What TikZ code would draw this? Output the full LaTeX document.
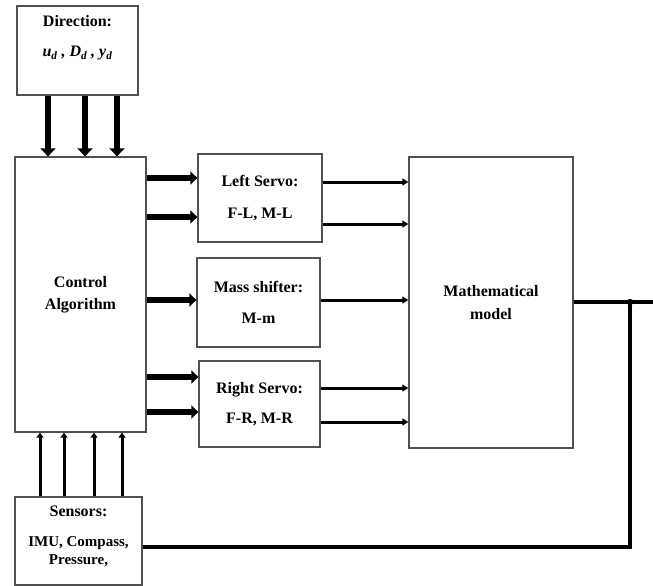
\documentclass[tikz,border=0pt]{standalone}
\usepackage{fontspec}
\setmainfont{Liberation Serif}
\usetikzlibrary{arrows.meta}
\definecolor{boxgray}{RGB}{80,80,80}
\tikzset{
  box/.style={draw=boxgray, line width=1.3pt, fill=white, inner sep=0pt, align=center},
  hd/.style={font=\fontsize{16}{22}\selectfont\bfseries, align=center, inner sep=0pt},
  sn/.style={font=\fontsize{15}{18}\selectfont\bfseries, align=center, inner sep=0pt},
  fatarrow/.style={line width=6pt, -{Triangle[length=8pt,width=15pt]}},
  medarrow/.style={line width=5.5pt, -{Triangle[length=7pt,width=13pt]}},
  thinarrow/.style={line width=3pt, -{Triangle[length=6pt,width=7pt]}},
  upline/.style={line width=3pt, -{Triangle[length=5pt,width=7pt]}},
  outline/.style={line width=4pt}
}
\begin{document}
\begin{tikzpicture}[x=1pt,y=-1pt]
\useasboundingbox (0,0) rectangle (653,586);
% boxes
\node[box, minimum width=121pt, minimum height=89pt] (dir) at (77.5,50.5) {};
\node[hd] (dirT) at (77.5,38) {Direction:\\[8pt]\itshape u\textsubscript{d} , D\textsubscript{d} , y\textsubscript{d}};
\node[box, hd, draw=boxgray, minimum width=131pt, minimum height=275pt] (ctrl) at (80.5,294.5) {Control\\Algorithm};
\node[box, minimum width=127pt, minimum height=88pt] (sens) at (78.5,541) {};
\node[sn] (sensT) at (78.5,536) {{\fontsize{16}{18}\selectfont Sensors:}\\[12pt]IMU, Compass,\\Pressure,};
\node[box, hd, draw=boxgray, minimum width=124pt, minimum height=88pt] (ls) at (260,198) {Left Servo:\\[10pt]F-L, M-L};
\node[box, hd, draw=boxgray, minimum width=123pt, minimum height=89pt] (ms) at (258.5,302.5) {Mass shifter:\\[9pt]M-m};
\node[box, hd, draw=boxgray, minimum width=121pt, minimum height=86pt] (rs) at (259.5,404) {Right Servo:\\[8pt]F-R, M-R};
\node[box, hd, draw=boxgray, minimum width=164pt, minimum height=291pt, font=\fontsize{16}{23}\selectfont\bfseries] (math) at (491,302.5) {Mathematical\\model};
% direction arrows
\foreach \x in {48,85,117}
  \draw[fatarrow] (dir.south -| \x,0) -- (ctrl.north -| \x,0);
% sensor arrows
\foreach \x in {40,64,94,122}
  \draw[upline] (sens.north -| \x,0) -- (ctrl.south -| \x,0);
% control to actuators
\draw[medarrow] (ctrl.east |- 0,178) -- (ls.west |- 0,178);
\draw[medarrow] (ctrl.east |- 0,217) -- (ls.west |- 0,217);
\draw[medarrow] (ctrl.east |- 0,300) -- (ms.west |- 0,300);
\draw[medarrow] (ctrl.east |- 0,377) -- (rs.west |- 0,377);
\draw[medarrow] (ctrl.east |- 0,412) -- (rs.west |- 0,412);
% actuators to model
\draw[thinarrow] (ls.east |- 0,182) -- (math.west |- 0,182);
\draw[thinarrow] (ls.east |- 0,224) -- (math.west |- 0,224);
\draw[thinarrow] (ms.east |- 0,300) -- (math.west |- 0,300);
\draw[thinarrow] (rs.east |- 0,388) -- (math.west |- 0,388);
\draw[thinarrow] (rs.east |- 0,422) -- (math.west |- 0,422);
% output and feedback
\coordinate (j) at (630,302);
\coordinate (out) at (653,302);
\draw[outline] (math.east |- j) -- (out);
\draw[outline, line join=miter] (sens.east |- 0,547) -| (j);
\fill (j) circle (3.2pt);
\end{tikzpicture}
\end{document}
